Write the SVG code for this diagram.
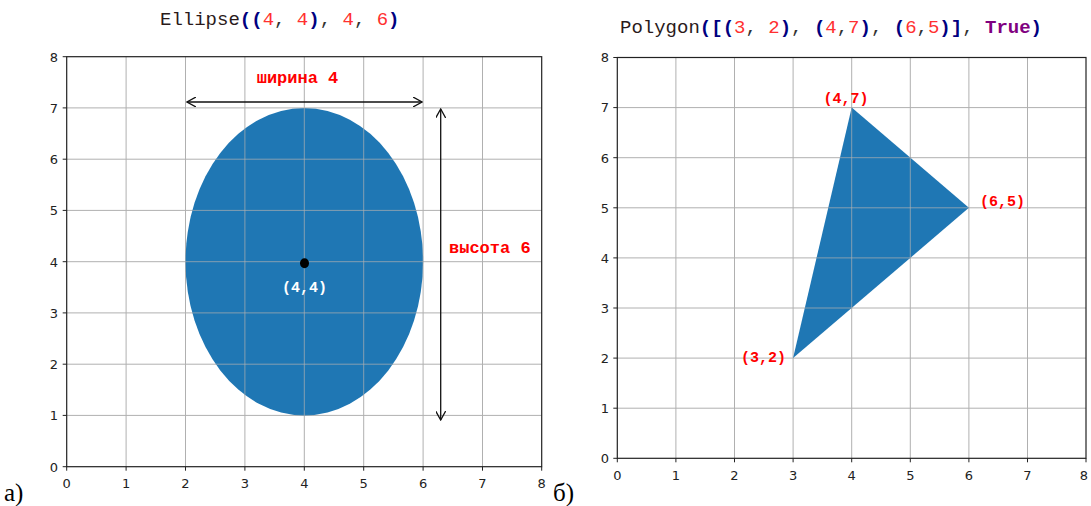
<svg xmlns="http://www.w3.org/2000/svg" width="1091" height="506" viewBox="0 0 1091 506">
<style>
.grid{stroke:#b0b0b0;stroke-width:1;fill:none}
.ingrid{stroke:#b0b0b0;stroke-opacity:0.7;stroke-width:1;fill:none}
.frame{stroke:#222;stroke-width:1.2;fill:none}
.tick{stroke:#222;stroke-width:1}
.tl{font-family:"DejaVu Sans",sans-serif;font-size:13px;fill:#222}
.title{font-family:"Liberation Mono",monospace;font-size:19px}
.lbl{font-family:"Liberation Mono",monospace;font-weight:bold;fill:#ff0000}
.cap{font-family:"Liberation Serif",serif;font-size:25px;fill:#000}
.arr{stroke:#111;stroke-width:1.3;fill:none}
</style>
<defs>
<marker id="ah" viewBox="0 0 10 10" refX="9" refY="5" markerWidth="10" markerHeight="10" markerUnits="userSpaceOnUse" orient="auto-start-reverse">
<path d="M0,0 L9,5 L0,10" fill="none" stroke="#111" stroke-width="1.3"/>
</marker>
<clipPath id="ec"><ellipse cx="304.3" cy="261.7" rx="118.8" ry="153.75"/></clipPath>
<clipPath id="pc"><polygon points="793.1,358.1 851.7,107.6 968.9,207.8"/></clipPath>
</defs>
<rect width="1091" height="506" fill="#fff"/>

<text class="title" x="160" y="25"><tspan fill="#2a1a1a">Ellipse</tspan><tspan fill="#000080" font-weight="bold">((</tspan><tspan fill="#ff3030">4</tspan><tspan fill="#333">, </tspan><tspan fill="#ff3030">4</tspan><tspan fill="#000080" font-weight="bold">)</tspan><tspan fill="#333">, </tspan><tspan fill="#ff3030">4</tspan><tspan fill="#333">, </tspan><tspan fill="#ff3030">6</tspan><tspan fill="#000080" font-weight="bold">)</tspan></text>

<text class="title" x="620" y="33"><tspan fill="#2a1a1a">Polygon</tspan><tspan fill="#000080" font-weight="bold">([(</tspan><tspan fill="#ff3030">3</tspan><tspan fill="#333">, </tspan><tspan fill="#ff3030">2</tspan><tspan fill="#000080" font-weight="bold">)</tspan><tspan fill="#333">, </tspan><tspan fill="#000080" font-weight="bold">(</tspan><tspan fill="#ff3030">4</tspan><tspan fill="#333">,</tspan><tspan fill="#ff3030">7</tspan><tspan fill="#000080" font-weight="bold">)</tspan><tspan fill="#333">, </tspan><tspan fill="#000080" font-weight="bold">(</tspan><tspan fill="#ff3030">6</tspan><tspan fill="#333">,</tspan><tspan fill="#ff3030">5</tspan><tspan fill="#000080" font-weight="bold">)]</tspan><tspan fill="#333">, </tspan><tspan fill="#800080" font-weight="bold">True</tspan><tspan fill="#000080" font-weight="bold">)</tspan></text>

<g id="left-axes">
<g class="grid">
<path d="M126.1,56.7V466.7M185.5,56.7V466.7M244.9,56.7V466.7M304.3,56.7V466.7M363.7,56.7V466.7M423.1,56.7V466.7M482.5,56.7V466.7"/>
<path d="M66.7,107.9H541.7M66.7,159.2H541.7M66.7,210.4H541.7M66.7,261.7H541.7M66.7,312.9H541.7M66.7,364.2H541.7M66.7,415.4H541.7"/>
</g>
<rect class="frame" x="66.7" y="56.7" width="475" height="410"/>
<path class="tick" d="M66.7,466.7v4M126.1,466.7v4M185.5,466.7v4M244.9,466.7v4M304.3,466.7v4M363.7,466.7v4M423.1,466.7v4M482.5,466.7v4M541.7,466.7v4"/>
<path class="tick" d="M66.7,56.7h-4M66.7,107.9h-4M66.7,159.2h-4M66.7,210.4h-4M66.7,261.7h-4M66.7,312.9h-4M66.7,364.2h-4M66.7,415.4h-4M66.7,466.7h-4"/>
<g class="tl" text-anchor="middle">
<text x="66.7" y="488">0</text><text x="126.1" y="488">1</text><text x="185.5" y="488">2</text><text x="244.9" y="488">3</text><text x="304.3" y="488">4</text><text x="363.7" y="488">5</text><text x="423.1" y="488">6</text><text x="482.5" y="488">7</text><text x="541.7" y="488">8</text>
</g>
<g class="tl" text-anchor="end">
<text x="58" y="61.5">8</text><text x="58" y="112.5">7</text><text x="58" y="164">6</text><text x="58" y="215">5</text><text x="58" y="266.5">4</text><text x="58" y="317.5">3</text><text x="58" y="369">2</text><text x="58" y="420">1</text><text x="58" y="471.5">0</text>
</g>
</g>

<g id="ellipse">
<ellipse cx="304.3" cy="261.7" rx="118.8" ry="153.75" fill="#1f77b4"/>
<g class="ingrid" clip-path="url(#ec)">
<path d="M185.5,56.7V466.7M244.9,56.7V466.7M304.3,56.7V466.7M363.7,56.7V466.7M423.1,56.7V466.7"/>
<path d="M66.7,107.9H541.7M66.7,159.2H541.7M66.7,210.4H541.7M66.7,261.7H541.7M66.7,312.9H541.7M66.7,364.2H541.7M66.7,415.4H541.7"/>
</g>
</g>

<g id="center-point">
<ellipse cx="304.5" cy="263.3" rx="4.5" ry="5" fill="#000"/>
<text class="lbl" x="304.5" y="292" font-size="15" style="fill:#fff" text-anchor="middle">(4,4)</text>
</g>

<g id="connectors">
<line class="arr" x1="187" y1="102" x2="422" y2="102" marker-start="url(#ah)" marker-end="url(#ah)"/>
<line class="arr" x1="440.7" y1="109" x2="440.7" y2="420" marker-start="url(#ah)" marker-end="url(#ah)"/>
</g>

<g id="width-label"><text class="lbl" x="297.5" y="83" font-size="17" text-anchor="middle">ширина 4</text></g>
<g id="height-label"><text class="lbl" x="449" y="253" font-size="17">высота 6</text></g>

<text class="cap" x="4" y="501">а)</text>

<g id="right-axes">
<g class="grid">
<path d="M675.9,57.5V458.3M734.5,57.5V458.3M793.1,57.5V458.3M851.7,57.5V458.3M910.3,57.5V458.3M968.9,57.5V458.3M1027.5,57.5V458.3"/>
<path d="M617.3,107.6H1086M617.3,157.7H1086M617.3,207.8H1086M617.3,257.9H1086M617.3,308H1086M617.3,358.1H1086M617.3,408.2H1086"/>
</g>
<rect class="frame" x="617.3" y="57.5" width="468.7" height="400.8"/>
<path class="tick" d="M617.3,458.3v4M675.9,458.3v4M734.5,458.3v4M793.1,458.3v4M851.7,458.3v4M910.3,458.3v4M968.9,458.3v4M1027.5,458.3v4M1086,458.3v4"/>
<path class="tick" d="M617.3,57.5h-4M617.3,107.6h-4M617.3,157.7h-4M617.3,207.8h-4M617.3,257.9h-4M617.3,308h-4M617.3,358.1h-4M617.3,408.2h-4M617.3,458.3h-4"/>
<g class="tl" text-anchor="middle">
<text x="617.3" y="480">0</text><text x="675.9" y="480">1</text><text x="734.5" y="480">2</text><text x="793.1" y="480">3</text><text x="851.7" y="480">4</text><text x="910.3" y="480">5</text><text x="968.9" y="480">6</text><text x="1027.5" y="480">7</text><text x="1084" y="480">8</text>
</g>
<g class="tl" text-anchor="end">
<text x="609" y="62.3">8</text><text x="609" y="112.4">7</text><text x="609" y="162.5">6</text><text x="609" y="212.6">5</text><text x="609" y="262.7">4</text><text x="609" y="312.8">3</text><text x="609" y="362.9">2</text><text x="609" y="413">1</text><text x="609" y="463.1">0</text>
</g>
</g>

<g id="polygon">
<polygon points="793.1,358.1 851.7,107.6 968.9,207.8" fill="#1f77b4"/>
<g class="ingrid" clip-path="url(#pc)">
<path d="M851.7,57.5V458.3M910.3,57.5V458.3"/>
<path d="M617.3,157.7H1086M617.3,207.8H1086M617.3,257.9H1086M617.3,308H1086"/>
</g>
</g>

<g id="vertex-labels">
<text class="lbl" x="846" y="103" font-size="15" text-anchor="middle">(4,7)</text>
<text class="lbl" x="980" y="206" font-size="15">(6,5)</text>
<text class="lbl" x="786" y="362" font-size="15" text-anchor="end">(3,2)</text>
</g>

<text class="cap" x="553" y="501">б)</text>
</svg>
